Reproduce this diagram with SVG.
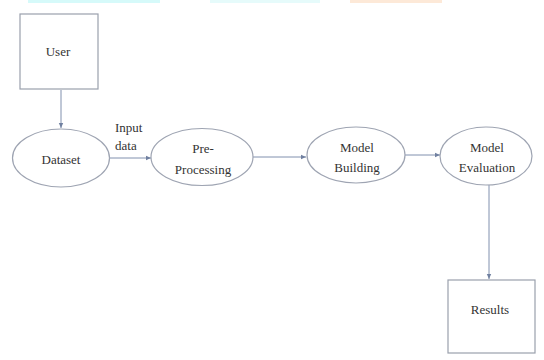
<svg xmlns="http://www.w3.org/2000/svg" width="544" height="360" viewBox="0 0 544 360">
  <style>
    .box { fill: #ffffff; stroke: #9aa0ac; stroke-width: 1.2; }
    .oval { fill: #ffffff; stroke: #9ea4b2; stroke-width: 1.2; }
    .lbl { font-family: "Liberation Serif", "Times New Roman", "DejaVu Serif", serif; font-size: 13px; fill: #333333; text-anchor: middle; }
    .side { font-family: "Liberation Serif", "Times New Roman", "DejaVu Serif", serif; font-size: 13px; fill: #333333; }
    .edge { fill: none; stroke: #8090ae; stroke-width: 1; marker-end: url(#tip); }
  </style>
  <defs>
    <marker id="tip" markerWidth="6" markerHeight="6" refX="5" refY="3" orient="auto" markerUnits="userSpaceOnUse">
      <path d="M0,0.8 L5,3 L0,5.2 Z" fill="#7080a0"/>
    </marker>
  </defs>

  <rect width="544" height="360" fill="#ffffff"/>

  <!-- page header strips along the top edge -->
  <rect x="28" y="0" width="132" height="3" fill="#d6fafa"/>
  <rect x="210" y="0" width="110" height="3" fill="#e6fbfb"/>
  <rect x="350" y="0" width="92" height="3" fill="#fde9d8"/>

  <g id="connectors">
    <line class="edge" x1="61" y1="90" x2="61" y2="128"/>
    <line class="edge" x1="110" y1="158" x2="151" y2="158"/>
    <line class="edge" x1="253" y1="157" x2="306" y2="157"/>
    <line class="edge" x1="405" y1="155" x2="440" y2="155"/>
    <line class="edge" x1="489" y1="185" x2="489" y2="279"/>
  </g>

  <g id="user">
    <rect class="box" x="20" y="14" width="78" height="75"/>
    <text class="lbl" x="58" y="56">User</text>
  </g>

  <g id="dataset">
    <ellipse class="oval" cx="61" cy="158" rx="48.5" ry="29"/>
    <text class="lbl" x="61" y="164">Dataset</text>
  </g>

  <g id="input-data-label">
    <text class="side" x="115" y="132">Input</text>
    <text class="side" x="115" y="150">data</text>
  </g>

  <g id="pre-processing">
    <ellipse class="oval" cx="202" cy="157" rx="51" ry="28.5"/>
    <text class="lbl" x="203" y="153">Pre-</text>
    <text class="lbl" x="203" y="174">Processing</text>
  </g>

  <g id="model-building">
    <ellipse class="oval" cx="356" cy="155" rx="49" ry="28"/>
    <text class="lbl" x="357" y="152">Model</text>
    <text class="lbl" x="357" y="172">Building</text>
  </g>

  <g id="model-evaluation">
    <ellipse class="oval" cx="486" cy="156" rx="46" ry="29"/>
    <text class="lbl" x="487" y="152">Model</text>
    <text class="lbl" x="487" y="172">Evaluation</text>
  </g>

  <g id="results">
    <rect class="box" x="448" y="280" width="87" height="73"/>
    <text class="lbl" x="490" y="314">Results</text>
  </g>
</svg>
